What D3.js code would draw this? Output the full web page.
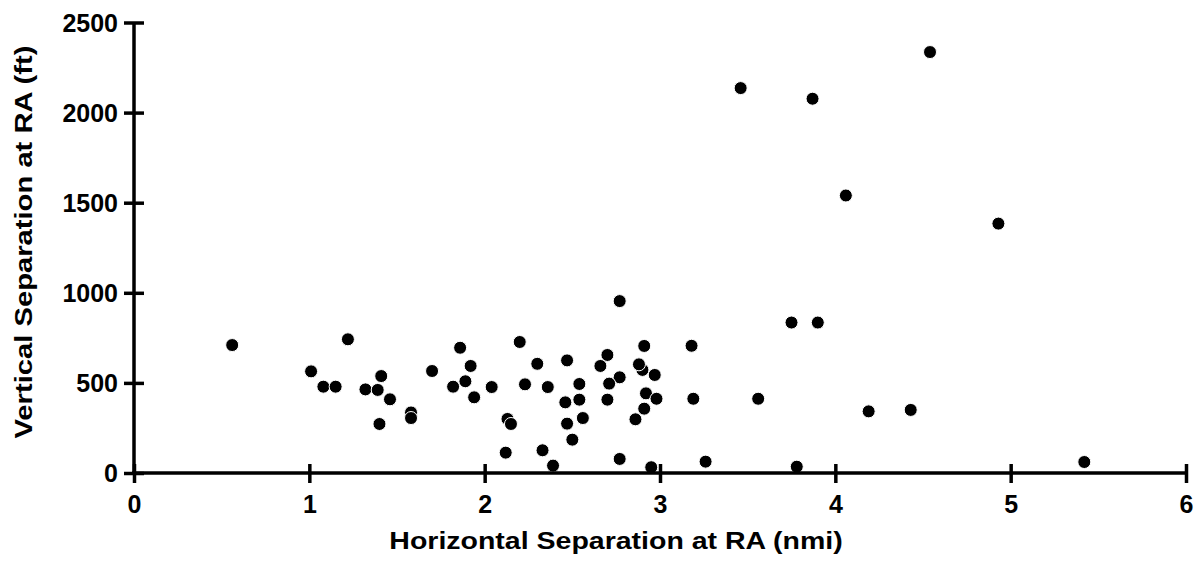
<!DOCTYPE html>
<html>
<head>
<meta charset="utf-8">
<script src="https://cdn.jsdelivr.net/npm/d3@7"></script>
<style>
  html, body { margin: 0; padding: 0; background: #fff; }
  svg { display: block; }
  text { font-family: "Liberation Sans", Arial, Helvetica, sans-serif; font-weight: bold; fill: #000; }
</style>
</head>
<body>
<svg id="chart" width="1195" height="574"></svg>
<script>
// Horizontal separation at RA (nmi)
const hSep = [1.58, 2.13, 2.90,
  0.56, 1.01, 1.08, 1.15, 1.22, 1.32, 1.41, 1.39, 1.46, 1.40, 1.58, 1.70, 1.86, 1.92, 1.89, 1.82,
  1.94, 2.04, 2.20, 2.30, 2.23, 2.36, 2.47, 2.54, 2.54, 2.46, 2.56, 2.47, 2.50, 2.15, 2.12, 2.33,
  2.39, 2.77, 2.70, 2.66, 2.77, 2.71, 2.70, 2.91, 2.88, 2.97, 2.92, 2.98, 2.91, 2.86, 2.77, 2.95,
  3.18, 3.19, 3.26, 3.46, 3.87, 4.54, 4.06, 4.93, 3.75, 3.90, 3.56, 4.19, 4.43, 3.78, 5.42];
// Vertical separation at RA (ft)
const vSep = [336, 300, 572,
  710, 564, 479, 479, 742, 464, 538, 461, 409, 272, 305, 566, 695, 594, 509, 479,
  420, 477, 727, 606, 492, 477, 625, 494, 407, 392, 305, 274, 185, 272, 113, 126,
  41, 954, 655, 594, 531, 496, 407, 705, 603, 544, 442, 412, 357, 298, 78, 32,
  706, 412, 63, 2136, 2077, 2336, 1540, 1384, 835, 835, 412, 342, 350, 35, 61];
const xTicks = [0, 1, 2, 3, 4, 5, 6];
const yTicks = [0, 500, 1000, 1500, 2000, 2500];
const xTitle = "Horizontal Separation at RA (nmi)";
const yTitle = "Vertical Separation at RA (ft)";

const svg = d3.select("#chart");
const x = d3.scaleLinear().domain([0, 6]).range([134, 1186]);
const y = d3.scaleLinear().domain([0, 2500]).range([473, 22.5]);

const points = hSep.map((h, i) => ({ h, v: vSep[i] }));

// dots
svg.append("g").selectAll("circle").data(points).join("circle")
  .attr("cx", d => x(d.h))
  .attr("cy", d => y(d.v))
  .attr("r", 6.5)
  .attr("fill", "#000")
  .attr("stroke", "#fff")
  .attr("stroke-width", 1);

const tickFont = "25px";

// y axis
const yAxis = svg.append("g").attr("transform", `translate(${x(0)},0)`)
  .call(d3.axisLeft(y).tickValues(yTicks).tickFormat(d3.format("d")).tickSizeOuter(0));
yAxis.select(".domain").attr("stroke", "#000").attr("stroke-width", 3.5)
  .attr("d", `M0,${y(0) + 2}V${y(2500)}`);
yAxis.selectAll(".tick line").attr("x1", -10).attr("x2", 10)
  .attr("stroke", "#000").attr("stroke-width", 3.5);
yAxis.selectAll(".tick text")
  .attr("x", -16).attr("dy", "0.35em")
  .style("font-size", tickFont).style("font-weight", "bold")
  .style("font-family", "'Liberation Sans', Arial, sans-serif");

// x axis
const xAxis = svg.append("g").attr("transform", `translate(0,${y(0)})`)
  .call(d3.axisBottom(x).tickValues(xTicks).tickFormat(d3.format("d")).tickSizeOuter(0));
xAxis.select(".domain").attr("stroke", "#000").attr("stroke-width", 3.5)
  .attr("d", `M${x(0) - 2},0H${x(6)}`);
xAxis.selectAll(".tick line").attr("y1", -9).attr("y2", 10)
  .attr("stroke", "#000").attr("stroke-width", 3.5);
xAxis.selectAll(".tick text")
  .attr("y", 40).attr("dy", 0)
  .style("font-size", tickFont).style("font-weight", "bold")
  .style("font-family", "'Liberation Sans', Arial, sans-serif");

// titles
svg.append("text")
  .attr("text-anchor", "middle")
  .attr("transform", "translate(616,549) scale(1.24,1)")
  .style("font-size", "23px")
  .text(xTitle);

svg.append("text")
  .attr("text-anchor", "middle")
  .attr("transform", "translate(32,242) rotate(-90) scale(1.27,1)")
  .style("font-size", "23px")
  .text(yTitle);
</script>
</body>
</html>
